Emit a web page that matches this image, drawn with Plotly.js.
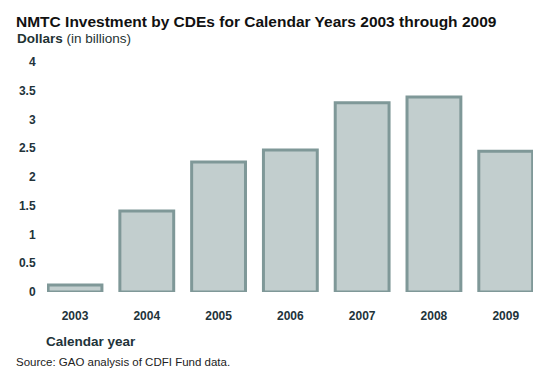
<!DOCTYPE html>
<html>
<head>
<meta charset="utf-8">
<script src="https://cdn.plot.ly/plotly-3.0.1.min.js"></script>
<style>html,body{margin:0;padding:0;background:#fff;}#chart{width:540px;height:375px;}</style>
</head>
<body>
<div id="chart"></div>
<script>
const years = ['2003', '2004', '2005', '2006', '2007', '2008', '2009'];
const investment = [0.12, 1.41, 2.26, 2.47, 3.29, 3.39, 2.45];
const yTickVals = [0, 0.5, 1, 1.5, 2, 2.5, 3, 3.5, 4];
const yTickText = ['0', '0.5', '1', '1.5', '2', '2.5', '3', '3.5', '4'];

const FONT = 'Liberation Sans, Arial, sans-serif';
const DARK = '#22333a';

const trace = {
  type: 'bar',
  x: years,
  y: investment,
  width: 0.75,
  marker: { color: '#c2cece', line: { color: '#7f9898', width: 3 } },
  hoverinfo: 'x+y'
};

const layout = {
  width: 540, height: 375,
  margin: { l: 47, r: 7, t: 62, b: 83 },
  paper_bgcolor: '#ffffff', plot_bgcolor: '#ffffff',
  showlegend: false,
  font: { family: FONT, color: DARK },
  title: {
    text: '<b>NMTC Investment by CDEs for Calendar Years 2003 through 2009</b>',
    font: { family: FONT, size: 15.5, color: '#111111' },
    xref: 'paper', x: 0, xanchor: 'left',
    yref: 'container', y: 0.942, yanchor: 'middle',
    pad: { l: -31 }
  },
  xaxis: {
    type: 'category',
    range: [-0.39, 6.38],
    showgrid: false, zeroline: false, showline: false,
    ticks: 'outside', ticklen: 13, tickcolor: 'rgba(0,0,0,0)',
    tickfont: { family: FONT, size: 12, color: DARK, weight: 'bold' },
    fixedrange: true
  },
  yaxis: {
    range: [0, 4],
    tickvals: yTickVals, ticktext: yTickText,
    showgrid: false, zeroline: false, showline: false,
    ticks: 'outside', ticklen: 8, tickcolor: 'rgba(0,0,0,0)',
    tickfont: { family: FONT, size: 12, color: DARK, weight: 'bold' },
    fixedrange: true
  },
  shapes: [{
    type: 'rect', xref: 'paper', yref: 'y',
    x0: 0, x1: 1,
    ysizemode: 'pixel', yanchor: 0, y0: -6, y1: 0,
    fillcolor: '#000000', line: { width: 0 }, layer: 'above'
  }],
  annotations: [
    {
      text: '<b>Dollars</b> (in billions)',
      xref: 'paper', yref: 'paper', x: -32 / 486, y: 1 + 23 / 230,
      xanchor: 'left', yanchor: 'middle', showarrow: false,
      font: { family: FONT, size: 13.5, color: '#1f3333' }
    },
    {
      text: '<b>Calendar year</b>',
      xref: 'paper', yref: 'paper', x: -3 / 486, y: -49 / 230,
      xanchor: 'left', yanchor: 'middle', showarrow: false,
      font: { family: FONT, size: 13.5, color: DARK }
    },
    {
      text: 'Source: GAO analysis of CDFI Fund data.',
      xref: 'paper', yref: 'paper', x: -33 / 486, y: -70 / 230,
      xanchor: 'left', yanchor: 'middle', showarrow: false,
      font: { family: FONT, size: 11.5, color: '#222222' }
    }
  ]
};

Plotly.newPlot('chart', [trace], layout, { displayModeBar: false, staticPlot: true });
</script>
</body>
</html>
